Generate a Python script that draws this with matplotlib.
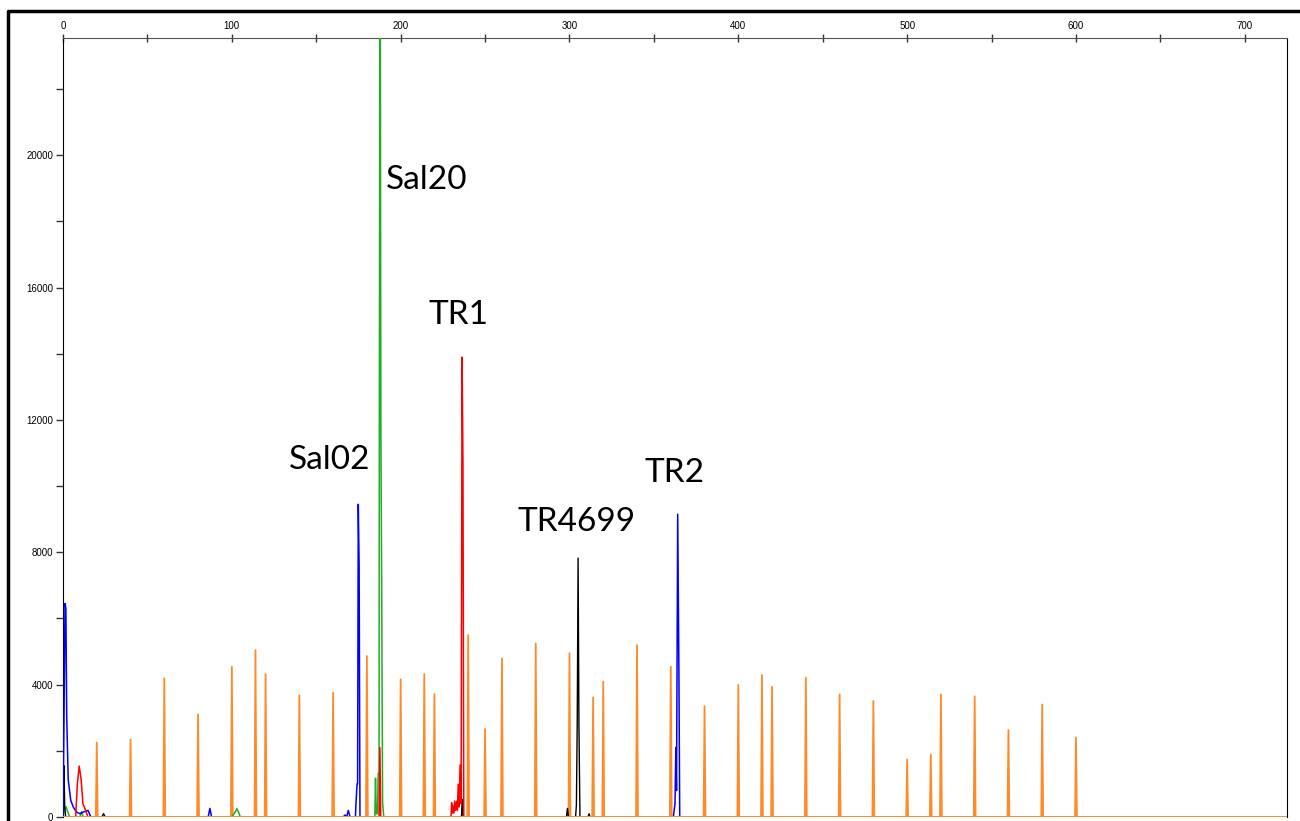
import numpy as np
import matplotlib
matplotlib.use("Agg")
import matplotlib.pyplot as plt
from matplotlib.lines import Line2D
from matplotlib.ticker import MultipleLocator

# size standard (orange) peaks: position (bp) and height (RFU)
orange_pos = [20, 40, 60, 80, 100, 114, 120, 140, 160, 180, 200, 214, 220, 240, 250, 260,
              280, 300, 314, 320, 340, 360, 380, 400, 414, 420, 440, 460, 480, 500, 514,
              520, 540, 560, 580, 600]
orange_h = [2250, 2340, 4190, 3100, 4540, 5045, 4320, 3675, 3755, 4865, 4160, 4320, 3715,
            5500, 2660, 4790, 5245, 4945, 3615, 4090, 5195, 4540, 3350, 3990, 4290, 3930,
            4210, 3705, 3505, 1740, 1890, 3705, 3645, 2630, 3400, 2405]

# sample dyes, traced point by point
blue_x = [0, 0.6, 1.2, 1.7, 2.2, 3.1, 4.6, 6.1, 8, 10, 12, 14.8, 16.5, 60, 86, 87, 88,
          166, 167, 168, 169, 170, 173.2, 173.6, 174.2, 174.5, 174.9, 175.4, 175.9, 177,
          361.5, 362.5, 363.0, 363.4, 364.1, 364.8, 365.3, 725]
blue_y = [0, 3000, 6450, 6300, 3050, 1120, 500, 300, 150, 100, 150, 200, 0, 0, 0, 260, 0,
          0, 60, 0, 200, 0, 0, 480, 1000, 1000, 9450, 7600, 0, 0,
          0, 400, 2100, 800, 9150, 4460, 0, 0]

green_x = [0, 0.8, 1.8, 2.8, 4, 10, 11, 12, 100, 102, 103, 104, 105, 184.7, 185.1, 185.6,
           186.3, 186.7, 187.2, 187.3, 187.8, 188.3, 188.8, 189.3, 190, 725]
green_y = [0, 200, 310, 150, 0, 0, 160, 0, 0, 150, 250, 150, 0, 0, 1170, 100,
           100, 1320, 1320, 8300, 30000, 11600, 6600, 430, 0, 0]

red_x = [0, 7.5, 8.5, 9.6, 10.7, 11.8, 13, 14.8, 187.2, 187.7, 188.2, 229.8, 230.2, 230.6,
         231.0, 231.4, 232.0, 232.5, 233.2, 233.6, 234.1, 234.6, 235.2, 235.8, 236.4,
         236.9, 237.4, 725]
red_y = [0, 0, 1000, 1540, 1150, 400, 250, 0, 0, 2100, 0, 0, 430, 120,
         330, 120, 480, 200, 480, 200, 990, 300, 1570, 400, 13900,
         10700, 0, 0]

black_x = [0, 0.3, 0.6, 1.0, 1.6, 23, 24, 25, 236, 236.5, 237, 298.2, 298.8, 299.4, 303.6,
           304.1, 304.6, 305.1, 305.6, 306.2, 311, 311.6, 312.2, 725]
black_y = [0, 400, 1550, 300, 0, 0, 100, 0, 0, 530, 0, 0, 260, 0, 0,
           360, 2900, 7825, 2800, 0, 0, 100, 0, 0]

labels = ["Sal02", "Sal20", "TR1", "TR4699", "TR2"]
label_x = [158, 215.5, 234.5, 304.3, 362.3]
label_y = [10785, 19245, 15166, 8912, 10393]


def spike_trace(pos, hts, hw=0.55):
    xs, ys = [0], [0]
    for p, h in zip(pos, hts):
        xs += [p - hw, p, p + hw]
        ys += [0, h, 0]
    xs.append(725)
    ys.append(0)
    return xs, ys


fig = plt.figure(figsize=(13, 8.21), dpi=100)
ax = fig.add_axes([63 / 1300, 4 / 821, (1287 - 63) / 1300, (817 - 38) / 821])

ox, oy = spike_trace(orange_pos, orange_h)
ax.plot(ox, oy, color="#ff8a2a", lw=1.3, zorder=2)
ax.plot(green_x, green_y, color="#1fae1f", lw=1.1, zorder=3)
ax.plot(black_x, black_y, color="black", lw=1.0, zorder=3)
ax.plot(blue_x, blue_y, color="#0000ff", lw=1.1, zorder=4)
ax.plot(red_x, red_y, color="#ff0000", lw=1.1, zorder=4)
ax.axhline(0, color="#ff8a2a", lw=2.2, zorder=5)

for t, x, y in zip(labels, label_x, label_y):
    ax.text(x, y, t, ha="center", va="center", fontsize=24, family="Lato", color="black")

ax.set_xlim(0, 725)
ax.set_ylim(0, 23540)

ax.xaxis.tick_top()
ax.xaxis.set_major_locator(MultipleLocator(100))
ax.xaxis.set_minor_locator(MultipleLocator(50))
ax.yaxis.set_major_locator(MultipleLocator(4000))
ax.yaxis.set_minor_locator(MultipleLocator(2000))
ax.tick_params(axis="x", which="both", direction="inout", length=6, width=1,
               labelsize=7, pad=2, colors="#333333")
ax.tick_params(axis="y", which="both", direction="out", length=5, width=1,
               labelsize=7, pad=2, colors="#333333")
for lab in ax.get_xticklabels() + ax.get_yticklabels():
    lab.set_family("Liberation Sans")
    lab.set_color("black")

ax.spines["bottom"].set_visible(False)
ax.spines["top"].set_color("#555555")
ax.spines["left"].set_color("black")
ax.spines["right"].set_color("black")

# outer frame of the screenshot
fig.add_artist(Line2D([8 / 1300, 8 / 1300, 1.0], [0, 1 - 11 / 821, 1 - 11 / 821],
                      transform=fig.transFigure, color="black", lw=2.5))

fig.savefig("out.png", dpi=100)
